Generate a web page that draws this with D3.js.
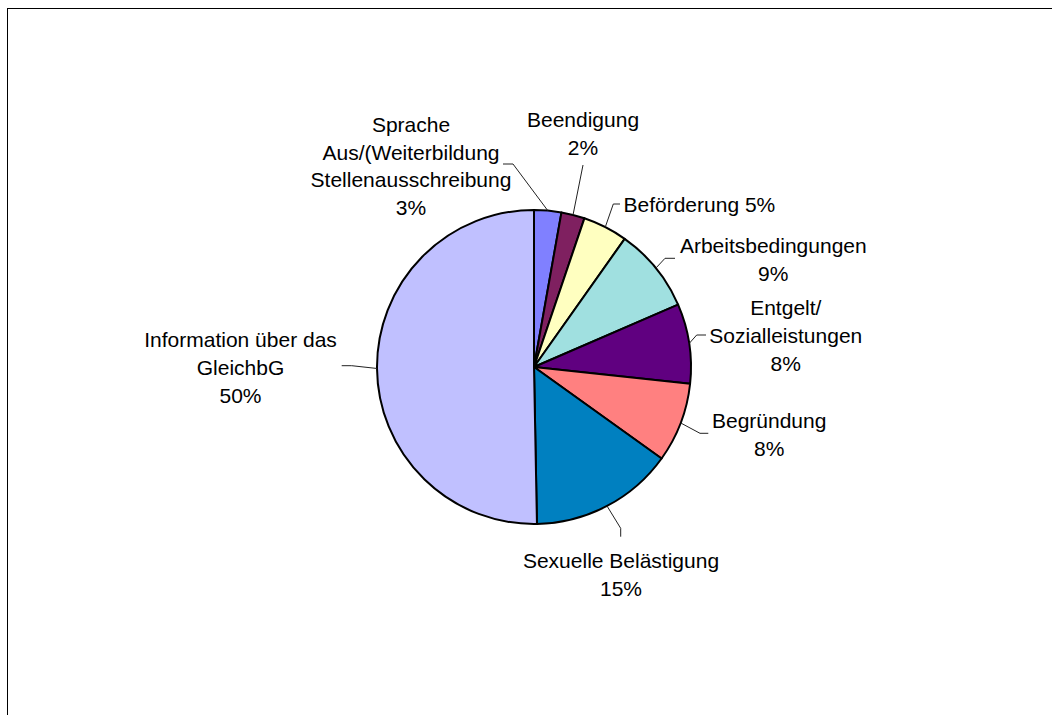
<!DOCTYPE html>
<html>
<head>
<meta charset="utf-8">
<script src="https://cdn.jsdelivr.net/npm/d3@7"></script>
<style>
    body { margin: 0; background: #fff; }
    text { font-family: "Liberation Sans", Arial, sans-serif; fill: #000; }
</style>
</head>
<body>
<svg id="chart"></svg>
<script>
// Data (slice shares in %, clockwise from 12 o'clock)
const categories = ['Sprache Aus/(Weiterbildung Stellenausschreibung', 'Beendigung', 'Beförderung',
    'Arbeitsbedingungen', 'Entgelt/ Sozialleistungen', 'Begründung', 'Sexuelle Belästigung',
    'Information über das GleichbG'];
const values = [2.8, 2.4, 4.6, 8.7, 8.2, 8.2, 14.8, 50.3];
const labelLines = [
    ['Sprache', 'Aus/(Weiterbildung', 'Stellenausschreibung'],
    ['Beendigung'],
    ['Beförderung'],
    ['Arbeitsbedingungen'],
    ['Entgelt/', 'Sozialleistungen'],
    ['Begründung'],
    ['Sexuelle Belästigung'],
    ['Information über das', 'GleichbG']
];
const colors = ['#8080ff', '#7f2060', '#ffffc0', '#a0e0e0', '#600080', '#ff8080', '#0080c0', '#c0c0ff'];

class PieChart {
    constructor(_config, _data) {
        this.config = {
            parentElement: _config.parentElement,
            containerWidth: _config.containerWidth || 1052,
            containerHeight: _config.containerHeight || 715,
            center: _config.center || [534, 367],
            radius: _config.radius || 157
        }
        this.data = _data;
        this.initVis();
        this.renderVis();
    }

    initVis() {
        let vis = this;

        vis.svg = d3.select(vis.config.parentElement)
            .attr('width', vis.config.containerWidth)
            .attr('height', vis.config.containerHeight);

        // chart area frame (only left and top edge are visible)
        vis.svg.append('rect')
            .attr('x', 7.5)
            .attr('y', 8.5)
            .attr('width', vis.config.containerWidth + 20)
            .attr('height', vis.config.containerHeight + 20)
            .attr('fill', 'none')
            .attr('stroke', '#000')
            .attr('stroke-width', 1);

        vis.chart = vis.svg.append('g')
            .attr('transform', `translate(${vis.config.center[0]}, ${vis.config.center[1]})`);

        vis.pie = d3.pie()
            .sort(null)
            .value(d => d.value);

        vis.arc = d3.arc()
            .innerRadius(0)
            .outerRadius(vis.config.radius);

        // label placement relative to the pie centre: text position and leader points
        vis.labelLayout = [
            { x: -123, y: -235.3, anchor: 'middle', pts: [[-21, -203], [-31, -203]] },
            { x: 49, y: -240.3, anchor: 'middle', pts: [[49, -202]] },
            { x: 89.5, y: -155, anchor: 'start', pts: [[79.3, -163], [86, -163]], inline: true },
            { x: 239.3, y: -113.7, anchor: 'middle', pts: [[131, -108.7], [141, -108.7]] },
            { x: 251.8, y: -52, anchor: 'middle', pts: [[162.7, -32], [172, -32]] },
            { x: 235.2, y: 61.3, anchor: 'middle', pts: [[166, 66.3], [174.3, 66.3]] },
            { x: 87, y: 200.7, anchor: 'middle', pts: [[86.7, 161.3], [86.7, 169.7]] },
            { x: -293.5, y: -20, anchor: 'middle', pts: [[-182.3, -1.3], [-192.3, -1.3]] }
        ];
        vis.lineHeight = 27.8;
    }

    renderVis() {
        let vis = this;
        const total = d3.sum(vis.data, d => d.value);
        const arcs = vis.pie(vis.data);

        vis.chart.selectAll('.slice')
            .data(arcs)
            .join('path')
            .attr('class', 'slice')
            .attr('d', vis.arc)
            .attr('fill', d => d.data.color)
            .attr('stroke', '#000')
            .attr('stroke-width', 2)
            .attr('stroke-linejoin', 'round');

        // leader lines: from pie edge at mid angle to the label
        const line = d3.line();
        vis.chart.selectAll('.leader')
            .data(arcs)
            .join('path')
            .attr('class', 'leader')
            .attr('fill', 'none')
            .attr('stroke', '#222')
            .attr('stroke-width', 1)
            .attr('d', (d, i) => {
                const a = (d.startAngle + d.endAngle) / 2;
                const r = vis.config.radius;
                const start = [r * Math.sin(a), -r * Math.cos(a)];
                return line([start, ...vis.labelLayout[i].pts]);
            });

        const labels = vis.chart.selectAll('.label')
            .data(arcs)
            .join('text')
            .attr('class', 'label')
            .style('font-size', '21px')
            .attr('text-anchor', (d, i) => vis.labelLayout[i].anchor);

        labels.each(function (d, i) {
            const lay = vis.labelLayout[i];
            const pct = Math.round(d.data.value / total * 100) + '%';
            let lines = d.data.lines.slice();
            if (lay.inline) lines[lines.length - 1] += ' ' + pct;
            else lines.push(pct);
            d3.select(this).selectAll('tspan')
                .data(lines)
                .join('tspan')
                .attr('x', lay.x)
                .attr('y', (t, j) => lay.y + j * vis.lineHeight)
                .text(t => t);
        });
    }
}

const data = categories.map((c, i) => ({
    name: c,
    value: values[i],
    lines: labelLines[i],
    color: colors[i]
}));

new PieChart({ parentElement: '#chart' }, data);
</script>
</body>
</html>
